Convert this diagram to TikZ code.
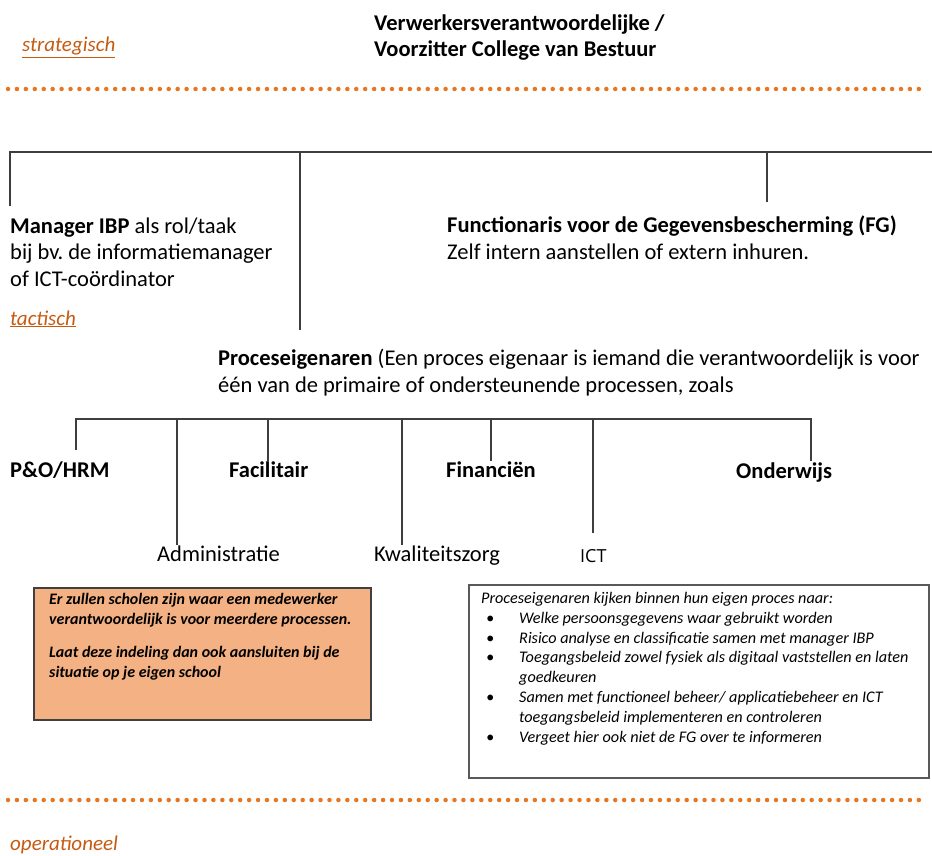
\documentclass[tikz,border=0pt]{standalone}
\usepackage{fontspec}
\setmainfont{Carlito}
\newfontfamily\ictfont{Open Sans}
\frenchspacing
\definecolor{dotorange}{RGB}{232,118,32}
\definecolor{levelorange}{RGB}{197,90,17}
\definecolor{boxorange}{RGB}{244,177,131}
\definecolor{treegray}{RGB}{62,62,62}
\begin{document}
\begin{tikzpicture}[x=1pt,y=-1pt,
  lbl/.style={inner sep=0pt, anchor=base west},
  big/.style={font=\fontsize{22.5}{26.5}\selectfont},
  bigb/.style={font=\fontsize{22.5}{26.5}\selectfont\bfseries},
  level/.style={lbl, text=levelorange, font=\fontsize{21}{25}\selectfont\itshape},
  tree/.style={draw=treegray, line width=2.4pt, line join=miter},
  dotline/.style={draw=dotorange, line width=4.5pt, line cap=round, dash pattern=on 0pt off 8.93pt},
  notebox/.style={draw=black!75, line width=2pt, fill=boxorange},
  infobox/.style={draw=black!65, line width=2.4pt, fill=white}]
\useasboundingbox (0,0) rectangle (932,856);

% levels and separators (multi-line nodes: base = baseline of last line)
\node[lbl, bigb, align=left] (vw) at (374,57) {Verwerkersverantwoordelijke /\\Voorzitter College van Bestuur};
\node[level] (strat) at (22,52) {\underline{strategisch}};
\draw[dotline] (8,89) -- (925,89);

% tactical level
\node[lbl, big, align=left] (mgr) at (10,286) {\textbf{Manager IBP} als rol/taak\\bij bv. de informatiemanager\\of ICT-coördinator};
\node[level] (tact) at (10,325) {\underline{tactisch}};
\node[lbl, big, align=left] (fg) at (447,259) {\textbf{Functionaris voor de Gegevensbescherming (FG)}\\Zelf intern aanstellen of extern inhuren.};
\node[lbl, big, align=left] (proc) at (218,392) {\textbf{Proceseigenaren} (Een proces eigenaar is iemand die verantwoordelijk is voor\\één van de primaire of ondersteunende processen, zoals};

% top tree
\coordinate (tr) at (934,152);
\coordinate (mgrtop) at (10,206);
\coordinate (proctop) at (300,330);
\coordinate (fgtop) at (767,202);
\draw[tree] (mgrtop) |- (tr);
\draw[tree] (proctop) -- (proctop |- tr);
\draw[tree] (fgtop) -- (fgtop |- tr);

% processes
\node[lbl, bigb] (hrm) at (10,477) {P\&O/HRM};
\node[lbl, bigb] (fac) at (229,477) {Facilitair};
\node[lbl, bigb] (fin) at (446,477) {Financiën};
\node[lbl, bigb] (ond) at (736,478) {Onderwijs};
\node[lbl, big] (adm) at (157,561) {Administratie};
\node[lbl, big] (kwa) at (374,561) {Kwaliteitszorg};
\node[lbl, font=\ictfont\fontsize{18}{21}\selectfont] (ict) at (580,562) {ICT};

\coordinate (hrmtop) at (76,450);
\coordinate (admtop) at (177,545);
\coordinate (factop) at (268,461);
\coordinate (kwatop) at (402,545);
\coordinate (fintop) at (491,461);
\coordinate (icttop) at (593,533);
\coordinate (ondtop) at (811,461);
\coordinate (bar) at (0,419);
\draw[tree] (hrmtop) |- (ondtop |- bar) -- (ondtop);
\foreach \c in {admtop,factop,kwatop,fintop,icttop}
  \draw[tree] (\c |- bar) -- (\c);

% boxes
\node[notebox, anchor=north west, minimum width=337pt, minimum height=132pt] (note) at (33,587) {};
\node[lbl, font=\fontsize{16}{19.5}\selectfont\itshape\bfseries, align=left] (notetxt) at (49,677)
  {Er zullen scholen zijn waar een medewerker\\verantwoordelijk is voor meerdere processen.\\[14pt]Laat deze indeling dan ook aansluiten bij de\\situatie op je eigen school};

\node[infobox, anchor=north west, minimum width=460pt, minimum height=193pt] (info) at (468,584) {};
\newcommand{\bul}{\makebox[38pt][l]{\hspace{5pt}•}}
\node[lbl, font=\fontsize{16.2}{19.8}\selectfont\itshape, align=left] (infotxt) at (481,742)
  {Proceseigenaren kijken binnen hun eigen proces naar:\\
   \bul Welke persoonsgegevens waar gebruikt worden\\
   \bul Risico analyse en classificatie samen met manager IBP\\
   \bul Toegangsbeleid zowel fysiek als digitaal vaststellen en laten\\
   \hspace*{38pt}goedkeuren\\
   \bul Samen met functioneel beheer/ applicatiebeheer en ICT\\
   \hspace*{38pt}toegangsbeleid implementeren en controleren\\
   \bul Vergeet hier ook niet de FG over te informeren};

% operational level
\draw[dotline] (8,800) -- (925,800);
\node[level] (oper) at (10,850) {operationeel};
\end{tikzpicture}
\end{document}
